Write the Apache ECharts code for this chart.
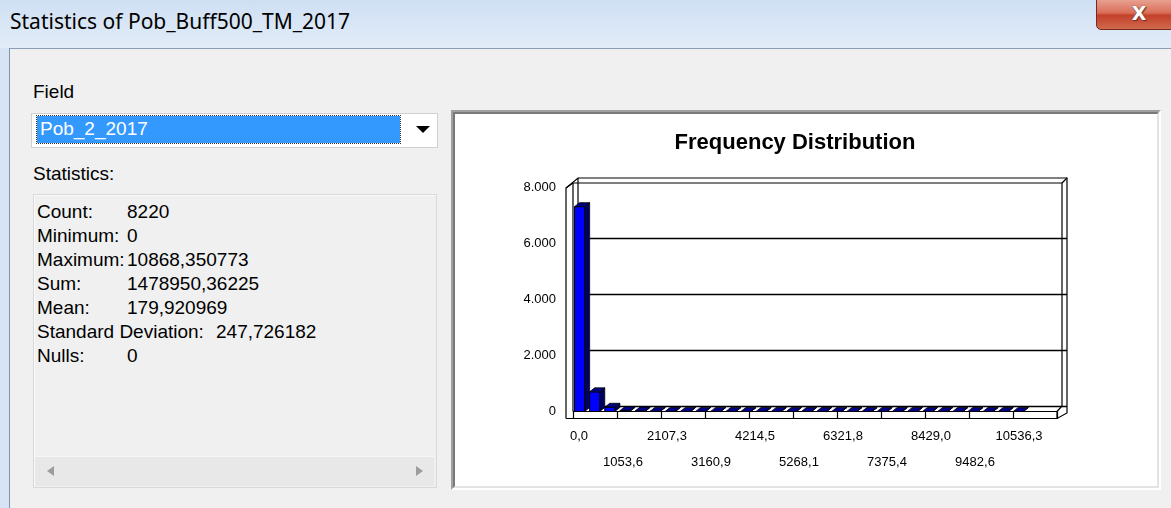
<!DOCTYPE html>
<html>
<head>
<meta charset="utf-8">
<script src="https://cdn.jsdelivr.net/npm/echarts/dist/echarts.min.js"></script>
<style>
  html, body { margin:0; padding:0; }
  body { width:1171px; height:508px; overflow:hidden; background:#f0f0f0; position:relative;
         font-family:"Liberation Sans", Arial, sans-serif; color:#000; }
  .abs { position:absolute; }
  #titlebar { left:0; top:0; width:1171px; height:48px;
              background:linear-gradient(to bottom, #cfdff3 0%, #dae7f6 60%, #e2ecf8 100%); }
  #titletext { left:10px; top:6px; font-family:"Noto Sans", "Open Sans", sans-serif; font-size:21px; line-height:30px; color:#000; }
  #leftframe { left:0; top:48px; width:9px; height:460px; background:#d6e4f5; border-right:1px solid #7f93ad; }
  #bodytop { left:10px; top:48px; width:1161px; height:1px; background:#8d9db3; }
  #closebtn { left:1096px; top:-2px; width:80px; height:30px; border:1px solid #7a2a1c; border-radius:0 0 0 5px;
              background:linear-gradient(to bottom, #e9a494 0%, #d9705a 45%, #c4412a 55%, #cf6a4e 100%); }
  #closex { left:1127px; top:0px; width:24px; height:26px; font-family:"DejaVu Sans", sans-serif; font-weight:bold;
            font-size:19px; line-height:26px; text-align:center; color:#fff;
            text-shadow: 0 0 1px #5a2a20, 1px 1px 1px #6a3024; }
  .lbl { font-size:19px; line-height:24px; white-space:nowrap; }
  #combo { left:31px; top:113px; width:405px; height:33px; background:#fff; border:1px solid #d0d0d0; }
  #sel { left:37px; top:116px; width:363px; height:27px; background:#3399ff; outline:1px dotted #40302a; }
  #seltext { left:40px; top:117px; color:#fff; }
  #arrow { left:416px; top:126px; width:0; height:0; border-left:7px solid transparent; border-right:7px solid transparent;
           border-top:7px solid #000; }
  #statbox { left:33px; top:194px; width:402px; height:292px; background:#f0f0f0; border:1px solid #d9d9d9;
             box-shadow: inset 1px 1px 0 #fafafa; }
  #scroll { left:35px; top:456px; width:399px; height:29px; background:#e8e8e8; border-top:1px solid #f6f6f6; }
  #sl { left:47px; top:466px; width:0; height:0; border-top:5px solid transparent; border-bottom:5px solid transparent;
        border-right:7px solid #9c9c9c; }
  #sr { left:416px; top:466px; width:0; height:0; border-top:5px solid transparent; border-bottom:5px solid transparent;
        border-left:7px solid #9c9c9c; }
  #panel1 { left:451px; top:110px; width:706px; height:376px; border-style:solid; border-width:2px;
            border-color:#a0a0a0 #ffffff #ffffff #a0a0a0; }
  #panel2 { left:453px; top:112px; width:702px; height:372px; border-style:solid; border-width:2px;
            border-color:#7a7a7a #e3e3e3 #e3e3e3 #7a7a7a; background:#fff; }
  #chart { left:456px; top:113px; width:701px; height:373px; }
</style>
</head>
<body>
<div id="titlebar" class="abs"></div>
<div id="titletext" class="abs">Statistics of Pob_Buff500_TM_2017</div>
<div id="closebtn" class="abs"></div>
<div id="closex" class="abs">X</div>
<div id="leftframe" class="abs"></div>
<div id="bodytop" class="abs"></div>

<div class="abs lbl" style="left:33px; top:80px;">Field</div>
<div id="combo" class="abs"></div>
<div id="sel" class="abs"></div>
<div id="seltext" class="abs lbl">Pob_2_2017</div>
<div id="arrow" class="abs"></div>
<div class="abs lbl" style="left:33px; top:162px;">Statistics:</div>
<div id="statbox" class="abs"></div>
<div id="stats"></div>
<div id="scroll" class="abs"></div>
<div id="sl" class="abs"></div>
<div id="sr" class="abs"></div>

<div id="panel1" class="abs"></div>
<div id="panel2" class="abs"></div>
<div id="chart" class="abs"></div>

<script>
// ---- Data ----
const statLabels = ["Count:", "Minimum:", "Maximum:", "Sum:", "Mean:", "Standard Deviation:", "Nulls:"];
const statValues = ["8220", "0", "10868,350773", "1478950,36225", "179,920969", "247,726182", "0"];

const fieldMin = 0;
const fieldMax = 10868.350773;
// frequency counts per bin (30 equal bins from min to max)
const binCounts = [7300, 700, 150, 29, 15, 8, 5, 3, 2, 2, 1, 1, 1, 0, 1, 0, 0, 1, 0, 0, 0, 0, 0, 0, 0, 0, 0, 0, 0, 1];
const xTickLabels = ["0,0", "1053,6", "2107,3", "3160,9", "4214,5", "5268,1", "6321,8", "7375,4", "8429,0", "9482,6", "10536,3"];
const xTickStep = 1053.627;
const yTicks = [0, 2000, 4000, 6000, 8000];
const yTickLabels = ["0", "2.000", "4.000", "6.000", "8.000"];
const chartTitle = "Frequency Distribution";

// ---- statistics text ----
const statsDiv = document.getElementById('stats');
const valueX = [127, 127, 127, 127, 127, 216, 127];
statLabels.forEach((l, i) => {
  const top = 200 + i * 24;
  const a = document.createElement('div');
  a.className = 'abs lbl'; a.style.left = '37px'; a.style.top = top + 'px'; a.textContent = l;
  statsDiv.appendChild(a);
  const b = document.createElement('div');
  b.className = 'abs lbl'; b.style.left = valueX[i] + 'px'; b.style.top = top + 'px'; b.textContent = statValues[i];
  statsDiv.appendChild(b);
});

// ---- chart ----
const OX = 456, OY = 113;
const binWidth = (fieldMax - fieldMin) / binCounts.length;
const barData = binCounts.map((c, i) => [fieldMin + i * binWidth, fieldMin + (i + 1) * binWidth, c]);

function L(x1, y1, x2, y2) {
  return { type: 'line', z: 1, shape: { x1: x1 - OX, y1: y1 - OY, x2: x2 - OX, y2: y2 - OY },
           style: { stroke: '#000', lineWidth: 1.2 } };
}
function P(pts) {
  return { type: 'polyline', z: 1, shape: { points: pts.map(p => [p[0] - OX, p[1] - OY]) },
           style: { stroke: '#000', lineWidth: 1.2, fill: null } };
}

const frame = [
  P([[566, 418.5], [566, 188], [578, 178], [1067, 178], [1067, 413], [1057, 418.5], [566, 418.5]]),
  P([[573, 411.5], [573, 183], [1062, 183], [1062, 406]]),
  L(566, 188, 573, 183),
  L(1062, 183, 1067, 178),
  L(573, 411.5, 1057, 411.5),
  L(1057, 411.5, 1062, 406),
  L(1057, 411.5, 1057, 418.5),
  L(578, 178, 578, 406)
];

const chart = echarts.init(document.getElementById('chart'), null, { renderer: 'canvas' });
const xMax = xTickStep * (xTickLabels.length);
chart.setOption({
  animation: false,
  backgroundColor: 'transparent',
  textStyle: { fontFamily: 'Liberation Sans, Arial, sans-serif' },
  title: {
    text: chartTitle, left: 334, top: 14, textAlign: 'center',
    textStyle: { fontSize: 22, fontWeight: 'bold', color: '#000', fontFamily: 'Liberation Sans, Arial, sans-serif' }
  },
  grid: [
    { left: 573 - OX, top: 187 - OY, width: 1057 - 573, height: 411.5 - 187 },
    { left: 578 - OX, top: 238 - OY, width: 1067 - 578, height: 406 - 238 }
  ],
  xAxis: [
    {
      gridIndex: 0, type: 'value', min: 0, max: xMax, interval: xTickStep,
      axisLine: { show: false },
      axisTick: { show: true, length: 7, lineStyle: { color: '#000', width: 1.2 } },
      splitLine: { show: false },
      axisLabel: {
        show: true, margin: 12, fontSize: 13, color: '#000', lineHeight: 26, padding: [0, 0, 0, 12],
        showMinLabel: true, showMaxLabel: true,
        formatter: (v, i) => {
          const t = xTickLabels[i];
          if (t === undefined) return '';
          return (i % 2 === 1) ? '\n' + t : t;
        }
      }
    },
    { gridIndex: 1, type: 'value', min: 0, max: 1, show: false }
  ],
  yAxis: [
    {
      gridIndex: 0, type: 'value', min: yTicks[0], max: yTicks[yTicks.length - 1], interval: yTicks[1] - yTicks[0],
      axisLine: { show: false }, axisTick: { show: false }, splitLine: { show: false },
      axisLabel: { margin: 17, fontSize: 13, color: '#000',
                   formatter: (v) => yTickLabels[yTicks.indexOf(v)] || '' }
    },
    {
      gridIndex: 1, type: 'value', min: 0, max: 6000, interval: 2000,
      axisLine: { show: false }, axisTick: { show: false }, axisLabel: { show: false },
      splitLine: { show: true, lineStyle: { color: '#000', width: 1.3 } }
    }
  ],
  graphic: { elements: frame },
  series: [{
    type: 'custom', xAxisIndex: 0, yAxisIndex: 0, z: 5,
    data: barData,
    renderItem: function (params, api) {
      const x0 = api.value(0), x1 = api.value(1), c = api.value(2);
      const b0 = api.coord([x0, 0]);
      const b1 = api.coord([x1, 0]);
      const t = api.coord([x1, c]);
      const xl = b0[0] + 1.5, xr = b1[0] - 3.5, yb = b0[1], yt = t[1];
      const dx = 5, dy = 4;
      return {
        type: 'group',
        children: [
          { type: 'polygon', shape: { points: [[xr, yt], [xr + dx, yt - dy], [xr + dx, yb - dy], [xr, yb]] },
            style: { fill: '#000066', stroke: '#000', lineWidth: 0.8 } },
          { type: 'rect', shape: { x: xl, y: yt, width: xr - xl, height: yb - yt },
            style: { fill: '#0000ff', stroke: '#000', lineWidth: 1 } },
          { type: 'polygon', shape: { points: [[xl, yt], [xr, yt], [xr + dx, yt - dy], [xl + dx, yt - dy]] },
            style: { fill: '#000080', stroke: '#000', lineWidth: 0.8 } }
        ]
      };
    }
  }]
});
</script>
</body>
</html>
